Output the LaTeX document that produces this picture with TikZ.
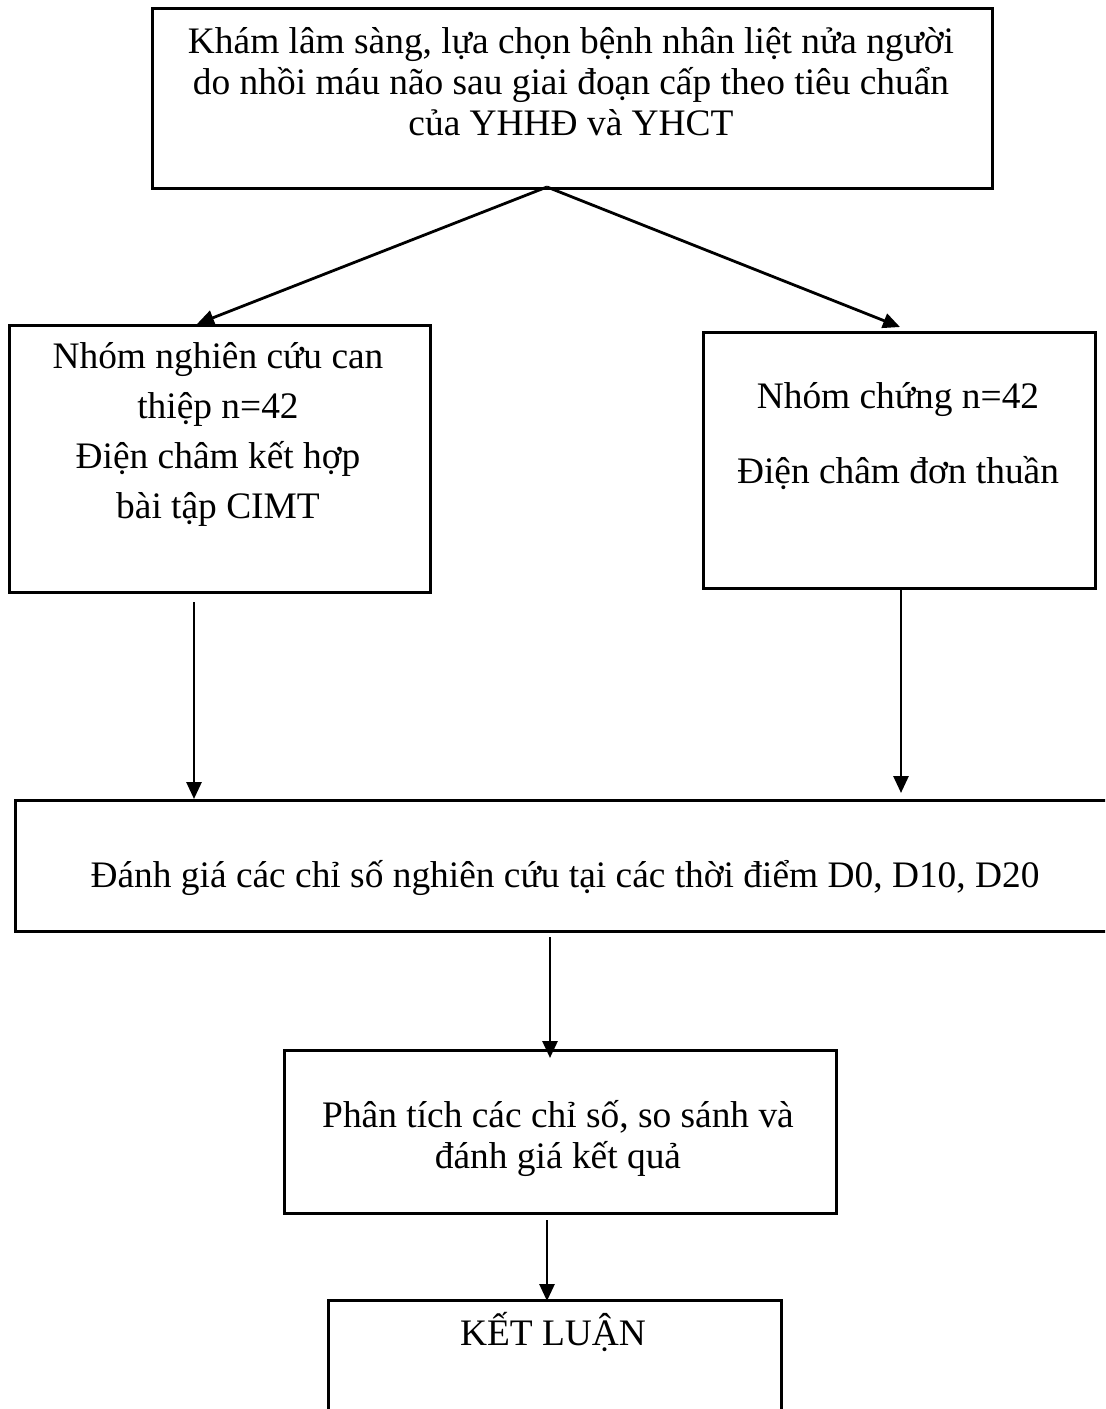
\documentclass[tikz,border=0pt]{standalone}
\usepackage{fontspec}
\setmainfont{Liberation Serif}
\usetikzlibrary{arrows.meta}
\begin{document}
\begin{tikzpicture}[x=0.5pt,y=-0.5pt,
  box/.style={draw, line width=1.3pt, inner sep=0pt, anchor=north west},
  txt/.style={anchor=base, align=center, inner sep=0pt},
  arr/.style={line width=1.4pt, -{Triangle[length=8.5pt,width=7.5pt]}}]
\clip (0,0) rectangle (1105,1409);
% boxes
\node[box, minimum width=420pt, minimum height=90pt] (top) at (151,7) {};
\node[box, minimum width=210.5pt, minimum height=133.5pt] (left) at (8,324) {};
\node[box, minimum width=196pt, minimum height=128pt] (right) at (702,331) {};
\node[box, minimum width=555.5pt, minimum height=65.5pt] (eval) at (14,799) {};
\node[box, minimum width=276pt, minimum height=81.5pt] (anal) at (283,1049) {};
\node[box, minimum width=226.5pt, minimum height=75pt] (conc) at (327,1299) {};
% texts (anchor = baseline of the last line)
\node[txt, font=\fontsize{18.7}{20.5}\selectfont] (ttop) at (571,135)
  {Khám lâm sàng, lựa chọn bệnh nhân liệt nửa người\\do nhồi máu não sau giai đoạn cấp theo tiêu chuẩn\\của YHHĐ và YHCT};
\node[txt, font=\fontsize{18.7}{25}\selectfont] (tleft) at (218,518)
  {Nhóm nghiên cứu can\\thiệp n=42\\Điện châm kết hợp\\bài tập CIMT};
\node[txt, font=\fontsize{18.7}{37.5}\selectfont] (tright) at (898,483)
  {Nhóm chứng n=42\\Điện châm đơn thuần};
\node[txt, font=\fontsize{18.7}{20.5}\selectfont] (teval) at (565,887)
  {Đánh giá các chỉ số nghiên cứu tại các thời điểm D0, D10, D20};
\node[txt, font=\fontsize{18.7}{20.5}\selectfont] (tanal) at (558,1168)
  {Phân tích các chỉ số, so sánh và\\đánh giá kết quả};
\node[txt, font=\fontsize{18.7}{20.5}\selectfont] (tconc) at (553,1345)
  {KẾT LUẬN};
% connector end points
\coordinate (ts) at (547,187);
\coordinate (lt) at (197,324);
\coordinate (rt) at (900,327);
\coordinate (lb) at (194,602);
\coordinate (le) at (194,799);
\coordinate (rb) at (901,587);
\coordinate (re) at (901,793);
\coordinate (eb) at (550,937);
\coordinate (ae) at (550,1058);
\coordinate (ab) at (547,1220);
\coordinate (ce) at (547,1301);
% connectors
\draw[arr] (ts) -- (lt);
\draw[arr] (ts) -- (rt);
\draw[arr] (lb) -- (le);
\draw[arr] (rb) -- (re);
\draw[arr] (eb) -- (ae);
\draw[arr] (ab) -- (ce);
\end{tikzpicture}
\end{document}
